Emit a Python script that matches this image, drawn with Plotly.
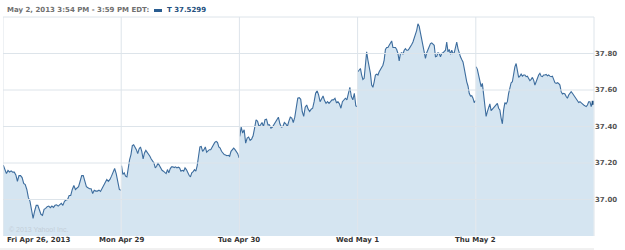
import numpy as np
import plotly.graph_objects as go

day_labels = ["Fri Apr 26, 2013", "Mon Apr 29", "Tue Apr 30", "Wed May 1", "Thu May 2"]

fri = [37.188,37.164,37.142,37.159,37.151,37.157,37.150,37.150,37.135,37.100,37.131,37.131,37.120,37.088,37.082,37.055,37.010,36.991,36.946,36.897,36.937,36.968,36.968,36.946,36.919,36.913,36.946,36.951,36.961,36.964,36.955,36.964,36.957,36.968,36.971,36.964,36.973,36.979,36.968,36.990,36.997,37.000,37.022,37.022,37.055,37.077,37.055,37.064,37.070,37.100,37.131,37.131,37.095,37.070,37.064,37.059,37.059,37.033,37.051,37.046,37.046,37.051,37.044,37.059,37.073,37.088,37.110,37.099,37.110,37.128,37.155,37.170,37.142,37.100,37.055,37.051]
mon = [37.186,37.137,37.146,37.128,37.124,37.179,37.219,37.246,37.295,37.300,37.288,37.273,37.251,37.277,37.288,37.264,37.222,37.255,37.269,37.259,37.246,37.237,37.222,37.210,37.200,37.173,37.182,37.200,37.186,37.173,37.160,37.155,37.150,37.142,37.164,37.146,37.168,37.179,37.179,37.175,37.179,37.173,37.177,37.173,37.155,37.160,37.155,37.173,37.164,37.146,37.133,37.124,37.146,37.153,37.164,37.155,37.186,37.237,37.288,37.291,37.264,37.273,37.288,37.259,37.264,37.273,37.273,37.288,37.300,37.313,37.318,37.313,37.288,37.282,37.264,37.251,37.246,37.244,37.240,37.242,37.237,37.264,37.277,37.282,37.273,37.264,37.251,37.228]
tue = [37.346,37.397,37.364,37.382,37.309,37.337,37.342,37.324,37.331,37.349,37.391,37.437,37.428,37.400,37.409,37.422,37.400,37.437,37.440,37.409,37.409,37.391,37.397,37.409,37.428,37.440,37.451,37.415,37.397,37.400,37.422,37.415,37.400,37.428,37.451,37.446,37.422,37.451,37.500,37.555,37.558,37.549,37.482,37.455,37.506,37.518,37.495,37.482,37.495,37.500,37.536,37.582,37.596,37.573,37.536,37.555,37.567,37.542,37.527,37.536,37.527,37.536,37.546,37.546,37.555,37.531,37.536,37.524,37.500,37.536,37.546,37.555,37.546,37.582,37.615,37.564,37.546,37.582,37.513,37.509]
wed = [37.700,37.713,37.718,37.682,37.658,37.664,37.764,37.809,37.764,37.727,37.691,37.627,37.615,37.645,37.682,37.687,37.682,37.700,37.713,37.724,37.736,37.764,37.822,37.833,37.833,37.845,37.854,37.869,37.833,37.831,37.833,37.822,37.800,37.760,37.800,37.804,37.796,37.818,37.827,37.818,37.818,37.827,37.836,37.849,37.863,37.882,37.900,37.927,37.963,37.949,37.913,37.882,37.840,37.809,37.773,37.804,37.822,37.836,37.854,37.858,37.851,37.845,37.782,37.785,37.804,37.800,37.782,37.800,37.804,37.809,37.818,37.863,37.809,37.822,37.796,37.818,37.800,37.804,37.840,37.863,37.827,37.800,37.782,37.767,37.754,37.718,37.673,37.645,37.622,37.582,37.567,37.569,37.555,37.531,37.542]
thu = [37.727,37.713,37.682,37.645,37.618,37.636,37.582,37.518,37.455,37.482,37.509,37.524,37.487,37.495,37.500,37.509,37.513,37.527,37.500,37.491,37.446,37.415,37.491,37.531,37.524,37.536,37.582,37.618,37.640,37.645,37.691,37.727,37.745,37.691,37.669,37.676,37.687,37.676,37.682,37.682,37.673,37.676,37.658,37.651,37.658,37.669,37.654,37.627,37.645,37.669,37.682,37.691,37.676,37.673,37.682,37.682,37.685,37.678,37.682,37.676,37.673,37.676,37.658,37.640,37.636,37.640,37.636,37.627,37.591,37.578,37.582,37.578,37.564,37.555,37.573,37.582,37.591,37.582,37.573,37.560,37.549,37.540,37.531,37.536,37.527,37.524,37.518,37.513,37.509,37.518,37.536,37.536,37.509,37.531,37.5299]

y_ticks = [37.00, 37.20, 37.40, 37.60, 37.80]
header_text = "May 2, 2013 3:54 PM - 3:59 PM EDT:"
legend_text = "T 37.5299"

DAY_MIN = 390
days = [fri, mon, tue, wed, thu]

W, H = 625, 250
ML, MR, MT, MB = 3, 31, 17, 14
PW = W - ML - MR
PH = H - MT - MB

def px_x(px):
    return (px - ML) / PW

def px_y(py):
    return 1 - (py - MT) / PH

LINE = "#3d6d9e"
FILL = "#d5e5f1"
GRID = "#dde4ea"
FONT = "DejaVu Sans"
FS = 7

fig = go.Figure()
for i, vals in enumerate(days):
    t = i * DAY_MIN + np.linspace(1, DAY_MIN - 1, len(vals))
    fig.add_trace(go.Scatter(x=t, y=vals, mode="lines", fill="tozeroy",
                             fillcolor=FILL, line=dict(color=LINE, width=1.1),
                             hoverinfo="skip", showlegend=False))
# end marker
fig.add_trace(go.Scatter(x=[4 * DAY_MIN + DAY_MIN - 1], y=[thu[-1]], mode="markers",
                         marker=dict(symbol="square", size=4, color="#1f4f80"),
                         showlegend=False, hoverinfo="skip"))

shapes = []
for i in range(len(days)):
    shapes.append(dict(type="line", xref="x", yref="paper", x0=i * DAY_MIN, x1=i * DAY_MIN,
                       y0=0, y1=1, line=dict(color=GRID, width=1), layer="above"))
for v in y_ticks:
    shapes.append(dict(type="line", xref="paper", yref="y", x0=0, x1=1, y0=v, y1=v,
                       line=dict(color=GRID, width=1), layer="above"))
# border: top and right
shapes.append(dict(type="line", xref="paper", yref="paper", x0=0, x1=1, y0=1, y1=1,
                   line=dict(color=GRID, width=1), layer="above"))
shapes.append(dict(type="line", xref="paper", yref="paper", x0=1, x1=1, y0=0, y1=1,
                   line=dict(color=GRID, width=1), layer="above"))
# bottom rule
shapes.append(dict(type="line", xref="paper", yref="paper", x0=px_x(0), x1=1,
                   y0=px_y(249), y1=px_y(249), line=dict(color="#e2e2e2", width=1), layer="above"))
# legend swatch
shapes.append(dict(type="rect", xref="paper", yref="paper", x0=px_x(154), x1=px_x(162),
                   y0=px_y(12), y1=px_y(9), line=dict(width=0), fillcolor="#2a5d91"))

annotations = []
for i, lab in enumerate(day_labels):
    annotations.append(dict(x=i * DAY_MIN if i else px_x(5), xref="x" if i else "paper",
                            y=px_y(240), yref="paper", text=lab, showarrow=False,
                            xanchor="center" if i else "left", yanchor="middle",
                            font=dict(family=FONT, size=FS, color="#333333", weight="bold")))
annotations.append(dict(x=px_x(5), xref="paper", y=px_y(10), yref="paper", text=header_text,
                        showarrow=False, xanchor="left", yanchor="middle",
                        font=dict(family=FONT, size=FS, color="#707070", weight="bold")))
annotations.append(dict(x=px_x(165), xref="paper", y=px_y(10), yref="paper", text=legend_text,
                        showarrow=False, xanchor="left", yanchor="middle",
                        font=dict(family=FONT, size=FS, color="#234f7d", weight="bold")))
annotations.append(dict(x=px_x(7), xref="paper", y=px_y(229), yref="paper", text="© 2013 Yahoo! Inc.",
                        showarrow=False, xanchor="left", yanchor="middle",
                        font=dict(family="Arial, Liberation Sans", size=7, color="#c4cfd9")))

fig.update_layout(
    width=W, height=H, margin=dict(l=ML, r=MR, t=MT, b=MB),
    paper_bgcolor="white", plot_bgcolor="white",
    xaxis=dict(range=[0, 5 * DAY_MIN], showgrid=False, zeroline=False, showticklabels=False,
               ticks="", showline=False, fixedrange=True),
    yaxis=dict(range=[36.80, 38.00], side="right", tickvals=y_ticks, tickformat=".2f",
               showgrid=False, zeroline=False, ticks="", showline=False,
               tickfont=dict(family=FONT, size=FS, color="#555555", weight="bold")),
    shapes=shapes, annotations=annotations,
)
fig.write_html("out.html")
